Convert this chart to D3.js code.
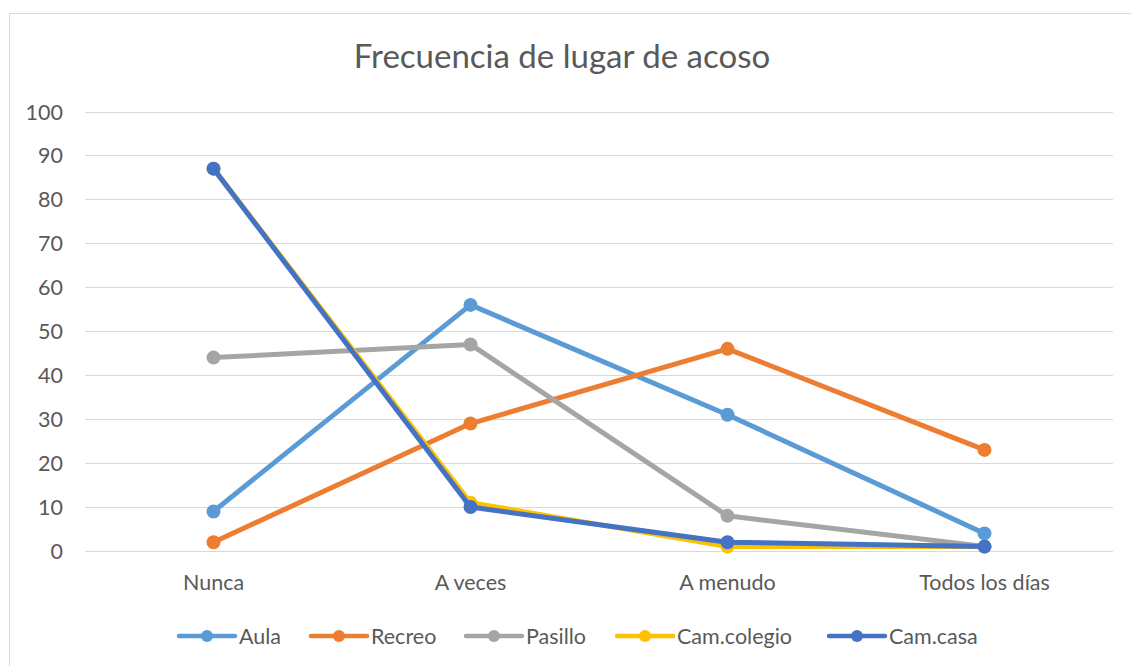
<!DOCTYPE html>
<html><head><meta charset="utf-8">
<script src="https://cdn.jsdelivr.net/npm/d3@7"></script>
<style>body{margin:0;background:#fff;} svg{display:block;font-family:Lato,"Open Sans",sans-serif;}</style>
</head><body>
<svg id="c" width="1131" height="666"></svg>
<script>
const categories = ["Nunca", "A veces", "A menudo", "Todos los días"];
const seriesNames = ["Aula", "Recreo", "Pasillo", "Cam.colegio", "Cam.casa"];
const aula = [9, 56, 31, 4];
const recreo = [2, 29, 46, 23];
const pasillo = [44, 47, 8, 1];
const camColegio = [87, 11, 1, 1];
const camCasa = [87, 10, 2, 1];
const yTicks = [0, 10, 20, 30, 40, 50, 60, 70, 80, 90, 100];
const colors = ["#5B9BD5", "#ED7D31", "#A5A5A5", "#FFC000", "#4472C4"];
const title = "Frecuencia de lugar de acoso";

const series = [aula, recreo, pasillo, camColegio, camCasa].map((v, i) => ({name: seriesNames[i], values: v, color: colors[i]}));

const svg = d3.select("#c");
svg.append("rect").attr("x", 9.5).attr("y", 13.5).attr("width", 1200).attr("height", 800)
  .attr("fill", "#fff").attr("stroke", "#D9D9D9").attr("stroke-width", 1);

const x = d3.scaleBand().domain(categories).range([85, 1113]);
const y = d3.scaleLinear().domain([0, 100]).range([551, 111.5]);
const textColor = "#595959";
const fs = 21.5;

// gridlines
svg.append("g").selectAll("line").data(yTicks).join("line")
  .attr("x1", 85).attr("x2", 1113)
  .attr("y1", d => Math.round(y(d)) + 0.5).attr("y2", d => Math.round(y(d)) + 0.5)
  .attr("stroke", "#D9D9D9").attr("stroke-width", 1);

// y axis labels
const yAxis = d3.axisLeft(y).tickValues(yTicks).tickSize(0).tickPadding(0);
const gy = svg.append("g").attr("transform", "translate(63,0)").call(yAxis);
gy.select(".domain").remove();
gy.selectAll("text").attr("fill", textColor).attr("font-size", fs).attr("font-family", "Lato, sans-serif").attr("dy", "0.35em");

// x axis labels
const xAxis = d3.axisBottom(x).tickSize(0).tickPadding(0);
const gx = svg.append("g").attr("transform", "translate(0,575)").call(xAxis);
gx.select(".domain").remove();
gx.selectAll("text").attr("fill", textColor).attr("font-size", fs).attr("font-family", "Lato, sans-serif").attr("y", 14.5).attr("dy", 0);

// title
svg.append("text").attr("x", 562).attr("y", 68).attr("text-anchor", "middle")
  .attr("fill", textColor).attr("font-size", 33).text(title);

const cx = (i) => x(categories[i]) + x.bandwidth() / 2;
const line = d3.line().x((d, i) => cx(i)).y(d => y(d));

const gs = svg.append("g").selectAll("g").data(series).join("g");
gs.append("path").attr("d", d => line(d.values)).attr("fill", "none")
  .attr("stroke", d => d.color).attr("stroke-width", 5).attr("stroke-linejoin", "round").attr("stroke-linecap", "round");
gs.selectAll("circle").data(d => d.values.map(v => ({v, c: d.color}))).join("circle")
  .attr("cx", (d, i) => cx(i)).attr("cy", d => y(d.v)).attr("r", 7).attr("fill", d => d.c);

// legend
const legendX = [179, 311, 466, 617, 829];
const lg = svg.append("g").selectAll("g").data(series).join("g")
  .attr("transform", (d, i) => `translate(${legendX[i]},636)`);
lg.append("line").attr("x1", 0).attr("x2", 56).attr("y1", 0).attr("y2", 0)
  .attr("stroke", d => d.color).attr("stroke-width", 4.5).attr("stroke-linecap", "round");
lg.append("circle").attr("cx", 28).attr("cy", 0).attr("r", 6).attr("fill", d => d.color);
lg.append("text").attr("x", 60).attr("y", 0).attr("dy", "0.35em").attr("fill", textColor)
  .attr("font-size", fs).text(d => d.name);
</script>
</body></html>
